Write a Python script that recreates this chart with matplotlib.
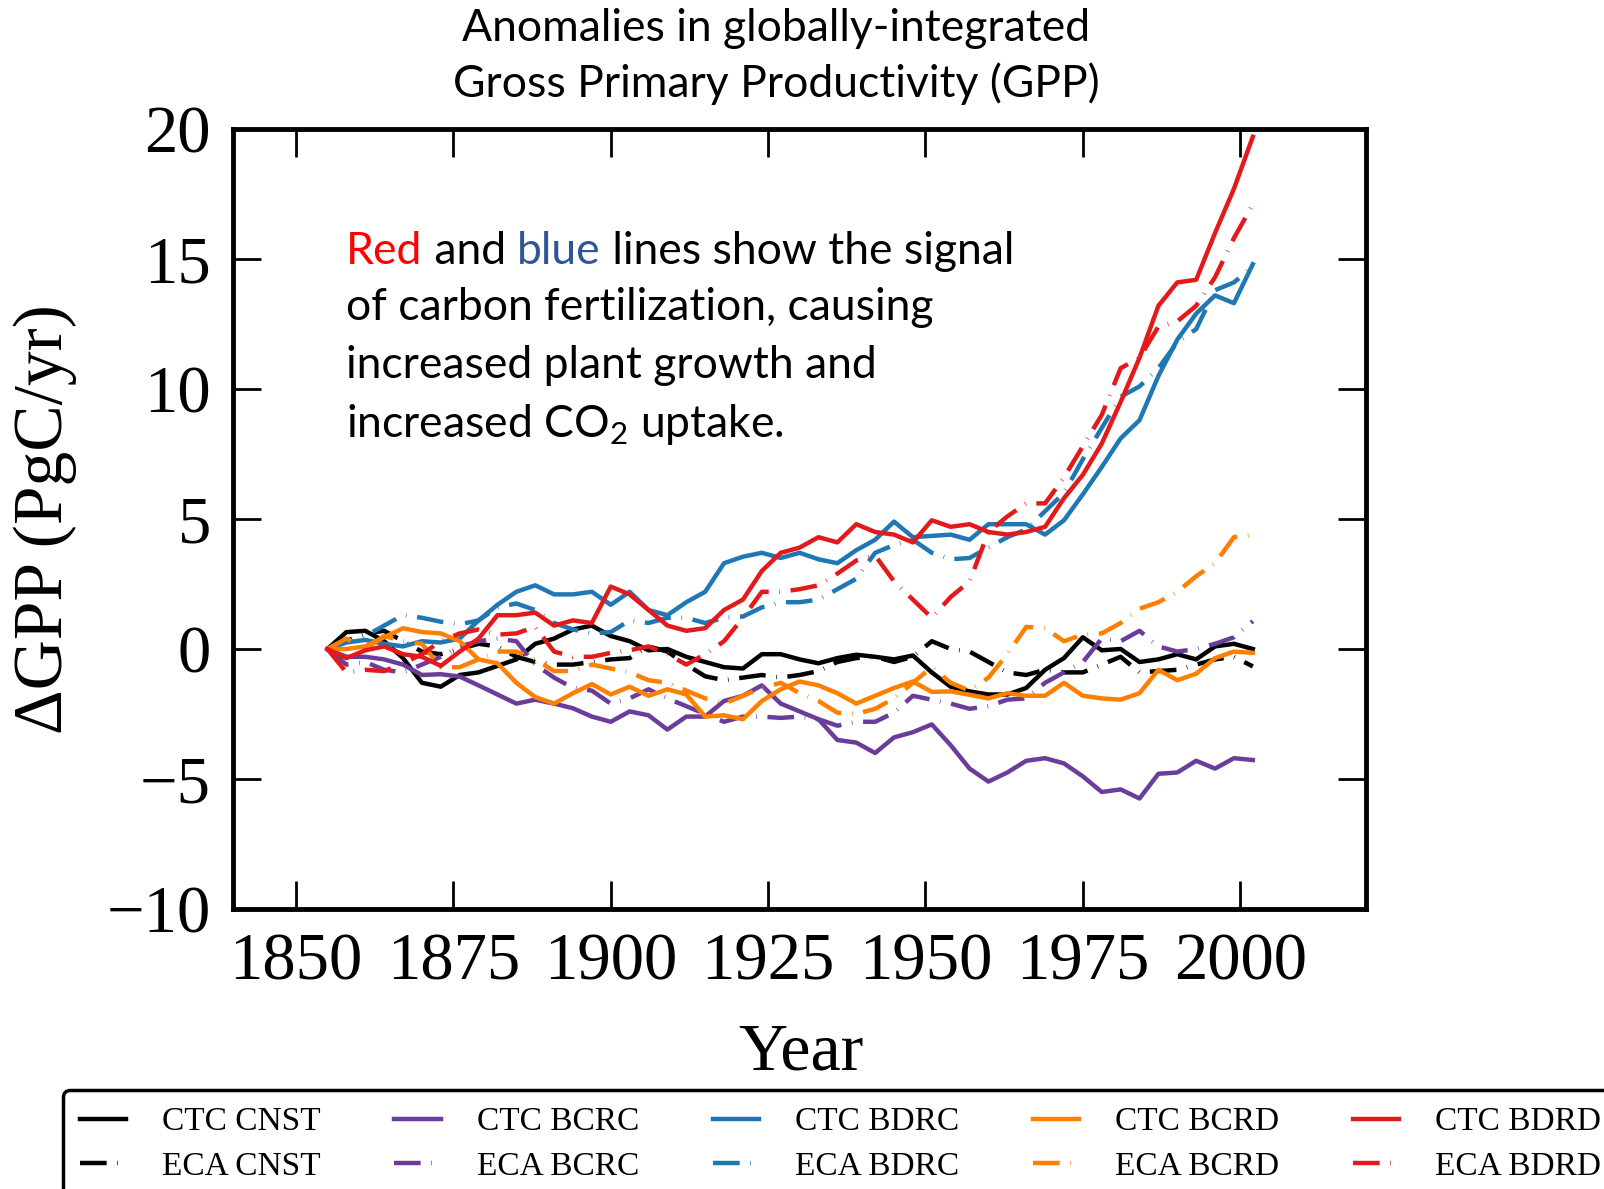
import matplotlib
matplotlib.use("Agg")
import matplotlib.pyplot as plt
from matplotlib.font_manager import FontProperties

# Annual GPP anomalies (PgC/yr), sampled every third year
years = list(range(1855, 2003, 3))

ctc_cnst = [0.0, 0.65, 0.7, 0.3, -0.35, -1.3, -1.45, -1.0, -0.9, -0.65,
            -0.4, 0.2, 0.4, 0.75, 0.9, 0.5, 0.3, -0.05, 0.0, -0.3,
            -0.5, -0.7, -0.75, -0.2, -0.2, -0.4, -0.55, -0.35, -0.22, -0.3,
            -0.4, -0.25, -0.9, -1.45, -1.63, -1.75, -1.75, -1.5, -0.8, -0.35,
            0.45, -0.05, 0.0, -0.5, -0.4, -0.2, -0.4, 0.1, 0.2, 0.0]
eca_cnst = [0.0, 0.3, 0.6, 0.7, 0.3, -0.1, -0.2, 0.0, 0.2, 0.1,
            -0.3, -0.5, -0.6, -0.6, -0.5, -0.4, -0.35, 0.1, -0.1, -0.6,
            -1.05, -1.2, -1.1, -1.0, -1.1, -1.0, -0.85, -0.5, -0.35, -0.3,
            -0.5, -0.3, 0.3, 0.0, -0.1, -0.5, -0.9, -1.0, -0.8, -0.9,
            -0.9, -0.6, -0.3, -0.9, -0.85, -0.8, -0.6, -0.4, -0.3, -0.67]

ctc_bcrc = [0.0, -0.3, -0.3, -0.4, -0.6, -1.0, -0.97, -1.06, -1.4, -1.75,
            -2.1, -1.95, -2.1, -2.28, -2.6, -2.8, -2.4, -2.55, -3.1, -2.6,
            -2.6, -2.0, -1.8, -1.4, -2.1, -2.4, -2.7, -3.5, -3.6, -4.0,
            -3.4, -3.2, -2.9, -3.7, -4.6, -5.1, -4.75, -4.3, -4.2, -4.4,
            -4.9, -5.5, -5.4, -5.75, -4.8, -4.75, -4.3, -4.6, -4.2, -4.27]
eca_bcrc = [0.0, -0.6, -0.5, -0.8, -0.9, -0.6, -0.3, 0.1, 0.3, 0.4,
            0.3, -0.6, -1.1, -1.5, -1.6, -2.1, -1.9, -1.55, -1.9, -2.2,
            -2.5, -2.8, -2.6, -2.6, -2.65, -2.6, -2.7, -2.95, -2.8, -2.8,
            -2.45, -1.8, -1.95, -2.1, -2.3, -2.2, -1.95, -1.9, -1.3, -0.9,
            -0.5, 0.4, 0.3, 0.7, 0.1, -0.1, 0.0, 0.2, 0.45, 1.07]

ctc_bdrc = [0.0, 0.25, 0.35, 0.2, 0.1, 0.3, 0.25, 0.4, 1.1, 1.7,
            2.2, 2.45, 2.1, 2.1, 2.2, 1.7, 2.2, 1.5, 1.3, 1.8,
            2.2, 3.3, 3.55, 3.7, 3.5, 3.7, 3.45, 3.3, 3.8, 4.2,
            4.9, 4.3, 4.35, 4.4, 4.2, 4.8, 4.8, 4.8, 4.4, 4.95,
            5.95, 7.0, 8.1, 8.8, 10.5, 11.9, 12.9, 13.6, 13.3, 14.8]
eca_bdrc = [0.0, 0.3, 0.5, 0.9, 1.3, 1.2, 1.05, 0.95, 1.1, 1.6,
            1.75, 1.5, 1.0, 0.75, 0.6, 0.65, 1.1, 1.0, 1.2, 1.2,
            1.0, 1.2, 1.25, 1.6, 1.8, 1.8, 1.9, 2.3, 2.7, 3.7,
            4.0, 4.2, 3.7, 3.45, 3.5, 3.9, 4.3, 4.6, 5.3, 6.0,
            7.3, 8.5, 9.7, 10.1, 10.8, 11.8, 12.3, 13.8, 14.1, 14.7]

ctc_bcrd = [0.0, 0.0, 0.1, 0.45, 0.8, 0.65, 0.6, 0.3, -0.4, -0.55,
            -1.3, -1.85, -2.1, -1.7, -1.35, -1.75, -1.45, -1.8, -1.55, -1.75,
            -2.6, -2.55, -2.7, -2.0, -1.55, -1.25, -1.4, -1.7, -2.1, -1.8,
            -1.5, -1.25, -1.65, -1.63, -1.76, -1.9, -1.7, -1.8, -1.8, -1.3,
            -1.8, -1.9, -1.95, -1.7, -0.8, -1.2, -0.95, -0.35, -0.1, -0.15]
eca_bcrd = [0.0, 0.4, 0.0, 0.5, 0.3, 0.2, -0.7, -0.7, -0.4, -0.1,
            -0.1, -0.4, -0.85, -0.85, -0.6, -0.75, -0.9, -1.2, -1.3, -1.6,
            -1.9, -2.1, -1.8, -1.5, -1.3, -1.7, -2.0, -2.45, -2.5, -2.3,
            -1.9, -1.3, -0.7, -1.3, -1.6, -1.1, -0.2, 0.85, 0.8, 0.3,
            0.55, 0.6, 1.0, 1.55, 1.8, 2.2, 2.8, 3.3, 4.3, 4.4]

ctc_bdrd = [0.0, -0.35, -0.05, 0.1, -0.2, -0.3, -0.65, -0.1, 0.4, 1.3,
            1.3, 1.4, 0.9, 1.1, 1.0, 2.4, 2.1, 1.5, 0.9, 0.7,
            0.8, 1.5, 1.9, 3.0, 3.7, 3.9, 4.3, 4.1, 4.8, 4.5,
            4.4, 4.1, 4.95, 4.7, 4.8, 4.5, 4.4, 4.5, 4.7, 5.8,
            6.7, 7.9, 9.5, 11.2, 13.2, 14.1, 14.2, 16.0, 17.7, 19.7]
eca_bdrd = [0.0, -0.9, -0.8, -0.85, -0.55, -0.2, 0.3, 0.6, 0.75, 0.55,
            0.6, 0.85, -0.1, -0.3, -0.3, -0.15, -0.05, 0.1, -0.2, -0.6,
            -0.2, 0.3, 1.2, 2.2, 2.2, 2.3, 2.45, 2.9, 3.4, 3.6,
            2.6, 1.9, 1.2, 2.0, 2.6, 4.5, 5.1, 5.6, 5.6, 6.6,
            7.8, 9.0, 10.8, 11.2, 12.4, 12.6, 13.2, 14.3, 15.8, 17.1]

experiments = ["CNST", "BCRC", "BDRC", "BCRD", "BDRD"]
ctc_runs = [ctc_cnst, ctc_bcrc, ctc_bdrc, ctc_bcrd, ctc_bdrd]
eca_runs = [eca_cnst, eca_bcrc, eca_bdrc, eca_bcrd, eca_bdrd]
run_colors = ["#000000", "#6a3d9a", "#1f78b4", "#ff7f00", "#e31a1c"]

xticks = [1850, 1875, 1900, 1925, 1950, 1975, 2000]
yticks = [-10, -5, 0, 5, 10, 15, 20]

SERIF = "Liberation Serif"
SANS = "Lato"

plt.rcParams["mathtext.fontset"] = "custom"
plt.rcParams["mathtext.rm"] = SANS

fig = plt.figure(figsize=(16.04, 11.89), dpi=100)
ax = fig.add_axes([0.1453, 0.2355, 0.7064, 0.656])

for name, ctc, eca, color in zip(experiments, ctc_runs, eca_runs, run_colors):
    ax.plot(years, ctc, color=color, lw=3.2, label="CTC " + name)
    ax.plot(years, eca, color=color, lw=3.2, dashes=(6.0, 2.4, 0.15, 2.4),
            label="ECA " + name)

ax.set_xlim(1840, 2020)
ax.set_ylim(-10, 20)
ax.set_xticks(xticks)
ax.set_yticks(yticks)
ax.tick_params(direction="in", length=20, width=2, top=True, right=True,
               labelsize=48)
ax.tick_params(axis="x", pad=17)
ax.tick_params(axis="y", pad=16)
for lab in ax.get_xticklabels() + ax.get_yticklabels():
    lab.set_family(SERIF)
for sp in ax.spines.values():
    sp.set_linewidth(3.5)

ax.set_ylabel("ΔGPP (PgC/yr)", fontsize=50, family=SERIF)
ax.yaxis.set_label_coords(-0.138, 0.5)
ax.set_xlabel("Year", fontsize=49, family=SERIF)
ax.xaxis.set_label_coords(0.501, -0.145)

# title, two lines
fig.text(0.484, 1 - 41 / 1189, "Anomalies in globally-integrated",
         ha="center", va="baseline", fontsize=32, family=SANS)
fig.text(0.484, 1 - 97 / 1189, "Gross Primary Productivity (GPP)",
         ha="center", va="baseline", fontsize=32, family=SANS)

# note inside the axes, first line coloured word by word
note_kw = dict(fontsize=32, family=SANS)
t = ax.text(0.1, 0.827, "Red", color="#ff0000", transform=ax.transAxes,
            ha="left", va="baseline", **note_kw)
for piece, col in [(" and ", "black"), ("blue", "#2f5597"),
                   (" lines show the signal", "black")]:
    t = ax.annotate(piece, xy=(1, 0), xycoords=t, ha="left", va="bottom",
                    color=col, **note_kw)
note_lines = ["of carbon fertilization, causing",
              "increased plant growth and",
              "increased CO$_2$ uptake."]
for txt, yb in zip(note_lines, [0.755, 0.681, 0.605]):
    ax.text(0.1, yb, txt, transform=ax.transAxes, ha="left",
            va="baseline", **note_kw)

leg = fig.legend(loc="upper left", bbox_to_anchor=(63 / 1604, 1 - 1090 / 1189),
                 ncol=5, prop=FontProperties(family=SERIF, size=24),
                 frameon=True, framealpha=1, edgecolor="black",
                 handlelength=1.4, handletextpad=1.08, columnspacing=2.2,
                 labelspacing=0.42, borderpad=0.5, borderaxespad=0)
leg.get_frame().set_linewidth(2.5)

fig.savefig("out.png", dpi=100)
